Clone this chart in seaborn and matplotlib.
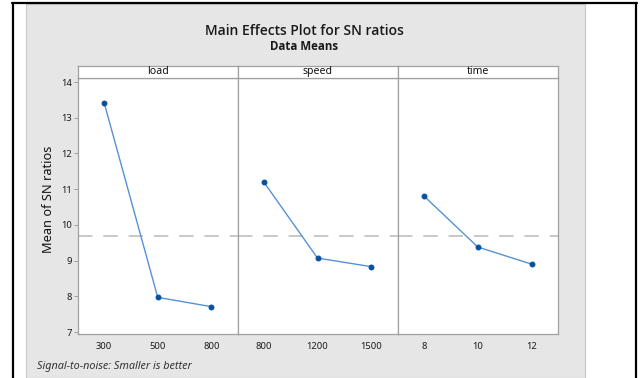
import pandas as pd
import seaborn as sns
import matplotlib.pyplot as plt
from matplotlib.patches import Rectangle
from matplotlib.lines import Line2D

# Data
factors = ["load", "speed", "time"]
load_levels = ["300", "500", "800"]
load_sn = [13.41, 7.97, 7.71]
speed_levels = ["800", "1200", "1500"]
speed_sn = [11.20, 9.07, 8.83]
time_levels = ["8", "10", "12"]
time_sn = [10.81, 9.38, 8.90]
y_ticks = [7, 8, 9, 10, 11, 12, 13, 14]

W, H = 643, 378
FONT = "Noto Sans"
BOLD_FONT = ["Open Sans", "Lato", "DejaVu Sans"]


def fx(px):
    return px / W


def fy(py):
    return 1 - py / H


def make_plot():
    sns.set_theme(style="white")
    plt.rcParams['font.family'] = [FONT, 'DejaVu Sans']

    levels = {"load": load_levels, "speed": speed_levels, "time": time_levels}
    values = {"load": load_sn, "speed": speed_sn, "time": time_sn}
    rows = []
    for f in factors:
        for lev, v in zip(levels[f], values[f]):
            rows.append({"factor": f, "level": lev, "sn": v})
    df = pd.DataFrame(rows)
    grand_mean = df.groupby("factor")["sn"].mean().mean()

    fig = plt.figure(figsize=(W / 100, H / 100), dpi=100)
    fig.patch.set_facecolor("white")

    # gray minitab background and table borders
    fig.patches.append(Rectangle((fx(26), 0), fx(585) - fx(26), fy(4), transform=fig.transFigure,
                                 facecolor="#e6e6e6", edgecolor="#c8c8c8", lw=0.8, zorder=-10))
    fig.lines.append(Line2D([fx(12.5), fx(12.5)], [0, fy(3)], transform=fig.transFigure, color="black", lw=1.6))
    fig.lines.append(Line2D([fx(636), fx(636)], [0, fy(3)], transform=fig.transFigure, color="black", lw=1.6))
    fig.lines.append(Line2D([fx(12), fx(637)], [fy(3), fy(3)], transform=fig.transFigure, color="black", lw=1.6))

    edges = [78, 237.5, 397.5, 558]
    top, bottom, strip_top = 78, 334, 66
    border = "#a0a0a0"

    for i, f in enumerate(factors):
        ax = fig.add_axes([fx(edges[i]), fy(bottom), fx(edges[i + 1]) - fx(edges[i]), (bottom - top) / H])
        sub = df[df["factor"] == f]
        ax.axhline(grand_mean, color="#c4c4c4", lw=1.3, dashes=(8, 6), zorder=1)
        sns.lineplot(data=sub, x="level", y="sn", ax=ax, sort=False, color="#5592d6", lw=1.0,
                     marker="o", markersize=3.5, markerfacecolor="#0a4f9e", markeredgecolor="#0a4f9e", zorder=3)
        ax.set_xlim(-0.49, 2.49)
        ax.set_ylim(6.944, 14.112)
        ax.set_facecolor("white")
        for s in ax.spines.values():
            s.set_color(border)
            s.set_linewidth(0.9)
        ax.set_xlabel("")
        ax.set_ylabel("")
        ax.tick_params(axis="x", length=0, pad=6, labelsize=6.8, colors="#1a1a1a")
        if i == 0:
            ax.set_yticks(y_ticks)
            ax.tick_params(axis="y", length=3, width=0.7, color=border, left=True, pad=1.5,
                           labelsize=6.8, labelcolor="#1a1a1a")
        else:
            ax.set_yticks([])

        # strip header
        sax = fig.add_axes([fx(edges[i]), fy(top), fx(edges[i + 1]) - fx(edges[i]), (top - strip_top) / H])
        sax.set_facecolor("white")
        sax.set_xticks([])
        sax.set_yticks([])
        for s in sax.spines.values():
            s.set_color(border)
            s.set_linewidth(0.9)
        sax.text(0.5, 0.55, f, ha="center", va="center", fontsize=7.6, color="#111111",
                 transform=sax.transAxes)

    fig.text(fx(304), fy(31), "Main Effects Plot for SN ratios", ha="center", va="center",
             fontsize=10, family=BOLD_FONT, fontweight="semibold", color="#1a1a1a")
    fig.text(fx(304), fy(46.5), "Data Means", ha="center", va="center",
             fontsize=8.3, family=BOLD_FONT, fontweight="bold", color="#1a1a1a")
    fig.text(fx(49), fy(199), "Mean of SN ratios", ha="center", va="center", rotation=90,
             fontsize=9.2, color="#111111")
    fig.text(fx(37), fy(367), "Signal-to-noise: Smaller is better", ha="left", va="center",
             fontsize=7.8, style="italic", color="#333333")

    fig.savefig("out.png", dpi=100)
    plt.close(fig)


if __name__ == "__main__":
    make_plot()
